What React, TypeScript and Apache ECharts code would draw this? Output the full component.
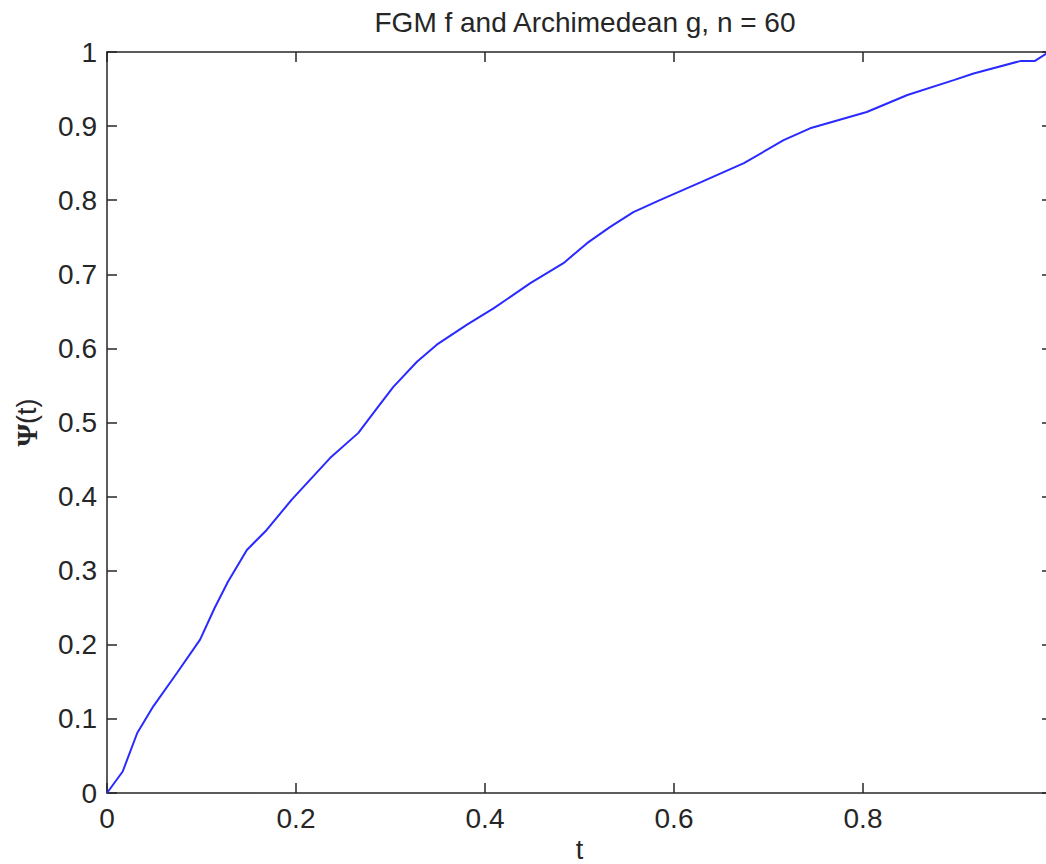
import React, { useEffect, useRef } from "react";
import * as echarts from "echarts";

const titleText = "FGM f and Archimedean g, n = 60";
const xName = "t";
const tValues = [
  0, 0.0166, 0.032, 0.049, 0.074, 0.0985, 0.114, 0.128, 0.148, 0.169, 0.1955,
  0.236, 0.266, 0.285, 0.303, 0.328, 0.349, 0.381, 0.409, 0.448, 0.483, 0.508,
  0.5325, 0.557, 0.585, 0.628, 0.674, 0.716, 0.744, 0.804, 0.847, 0.896, 0.917,
  0.967, 0.982, 0.994, 1.0,
];
const psiValues = [
  0, 0.029, 0.081, 0.117, 0.162, 0.207, 0.25, 0.285, 0.328, 0.355, 0.396,
  0.452, 0.486, 0.518, 0.548, 0.582, 0.605, 0.632, 0.654, 0.688, 0.715, 0.742,
  0.764, 0.784, 0.8, 0.824, 0.85, 0.881, 0.897, 0.919, 0.942, 0.962, 0.971,
  0.988, 0.988, 0.998, 1.0,
];

const FONT = "Liberation Sans";
const TEXT = "#262626";
const AXIS = "#262626";

export default function App() {
  const ref = useRef<HTMLDivElement>(null);
  useEffect(() => {
    if (!ref.current) return;
    const chart = echarts.init(ref.current, null, { renderer: "svg" });
    const data = tValues.map((t, i) => [t, psiValues[i]]);
    const baseAxis = {
      type: "value",
      min: 0,
      max: 1,
      axisLine: { show: true, onZero: false, lineStyle: { color: AXIS, width: 1.5 } },
      axisTick: { show: true, inside: true, length: 10, lineStyle: { color: AXIS, width: 1.5 } },
      splitLine: { show: false },
    };
    chart.setOption({
      animation: false,
      backgroundColor: "#fff",
      title: {
        text: titleText,
        left: 580,
        textAlign: "center",
        top: 3,
        textStyle: { fontFamily: FONT, fontSize: 28, fontWeight: "normal", color: TEXT },
      },
      grid: { left: 107, top: 52, right: -6, bottom: 71, outerBoundsMode: "none", containLabel: false },
      xAxis: [
        {
          ...baseAxis,
          position: "bottom",
          interval: 0.2,
          name: xName,
          nameLocation: "middle",
          nameGap: 40,
          nameTextStyle: { fontFamily: FONT, fontSize: 27, color: TEXT },
          axisLabel: { margin: 11, fontFamily: FONT, fontSize: 28, color: TEXT },
        },
        {
          ...baseAxis,
          position: "top",
          interval: 0.2,
          axisLabel: { show: false },
        },
      ],
      yAxis: [
        {
          ...baseAxis,
          position: "left",
          interval: 0.1,
          name: "{psi|Ψ}{rest|(t)}",
          nameLocation: "middle",
          nameRotate: 90,
          nameGap: 66,
          nameTextStyle: {
            fontFamily: FONT,
            fontSize: 26,
            color: TEXT,
            rich: {
              psi: { fontFamily: "Liberation Serif", fontSize: 29, fontWeight: "bold", color: TEXT },
              rest: { fontFamily: FONT, fontSize: 27, color: TEXT },
            },
          },
          axisLabel: { margin: 10, fontFamily: FONT, fontSize: 28, color: TEXT },
        },
        {
          ...baseAxis,
          position: "right",
          interval: 0.1,
          axisLabel: { show: false },
        },
      ],
      series: [
        {
          type: "line",
          data,
          xAxisIndex: 0,
          yAxisIndex: 0,
          showSymbol: false,
          symbol: "none",
          lineStyle: { color: "#2a2aff", width: 2 },
        },
      ],
    });
    return () => chart.dispose();
  }, []);
  return (
    <div
      ref={ref}
      style={{ position: "fixed", left: 0, top: 0, width: 1046, height: 864 }}
    />
  );
}
